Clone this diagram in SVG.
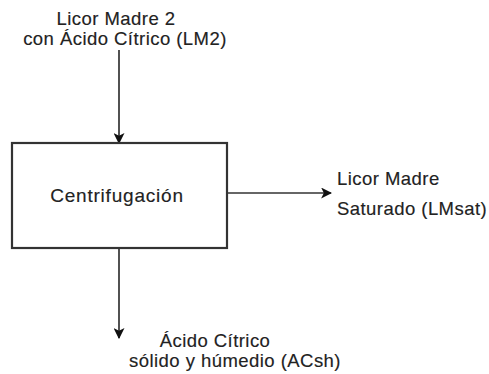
<svg xmlns="http://www.w3.org/2000/svg" width="489" height="374" viewBox="0 0 489 374">
<defs>
<marker id="arr" viewBox="0 0 10 10" refX="9" refY="5" markerWidth="11" markerHeight="11" markerUnits="userSpaceOnUse" orient="auto">
<path d="M0,0 L10,5 L0,10 L2.5,5 Z" fill="#111"/>
</marker>
<style>
text{font-family:"Liberation Sans",Arial,sans-serif;font-size:18.5px;letter-spacing:0.45px;fill:#222;stroke:#222;stroke-width:0.15}
.c{text-anchor:middle}
.big{font-size:19px;letter-spacing:0.8px}
.ln{stroke:#333;stroke-width:1.7;fill:none;marker-end:url(#arr)}
.box{fill:#fff;stroke:#333;stroke-width:2.2}
</style>
</defs>
<rect width="489" height="374" fill="#fff"/>
<g id="connectors">
<line class="ln" x1="119" y1="50" x2="119" y2="143"/>
<line class="ln" x1="227" y1="193" x2="331" y2="193"/>
<line class="ln" x1="119" y1="248" x2="119" y2="338"/>
</g>
<g id="centrifugacion">
<rect class="box" x="12" y="143" width="215" height="105"/>
<text class="c big" x="117" y="202">Centrifugación</text>
</g>
<g id="lm2">
<text class="c" x="116" y="25">Licor Madre 2</text>
<text class="c" x="125" y="45">con Ácido Cítrico (LM2)</text>
</g>
<g id="lmsat">
<text x="337" y="185">Licor Madre</text>
<text x="337" y="215">Saturado (LMsat)</text>
</g>
<g id="acsh">
<text class="c" x="215" y="347">Ácido Cítrico</text>
<text class="c" x="235" y="367">sólido y húmedio (ACsh)</text>
</g>
</svg>
